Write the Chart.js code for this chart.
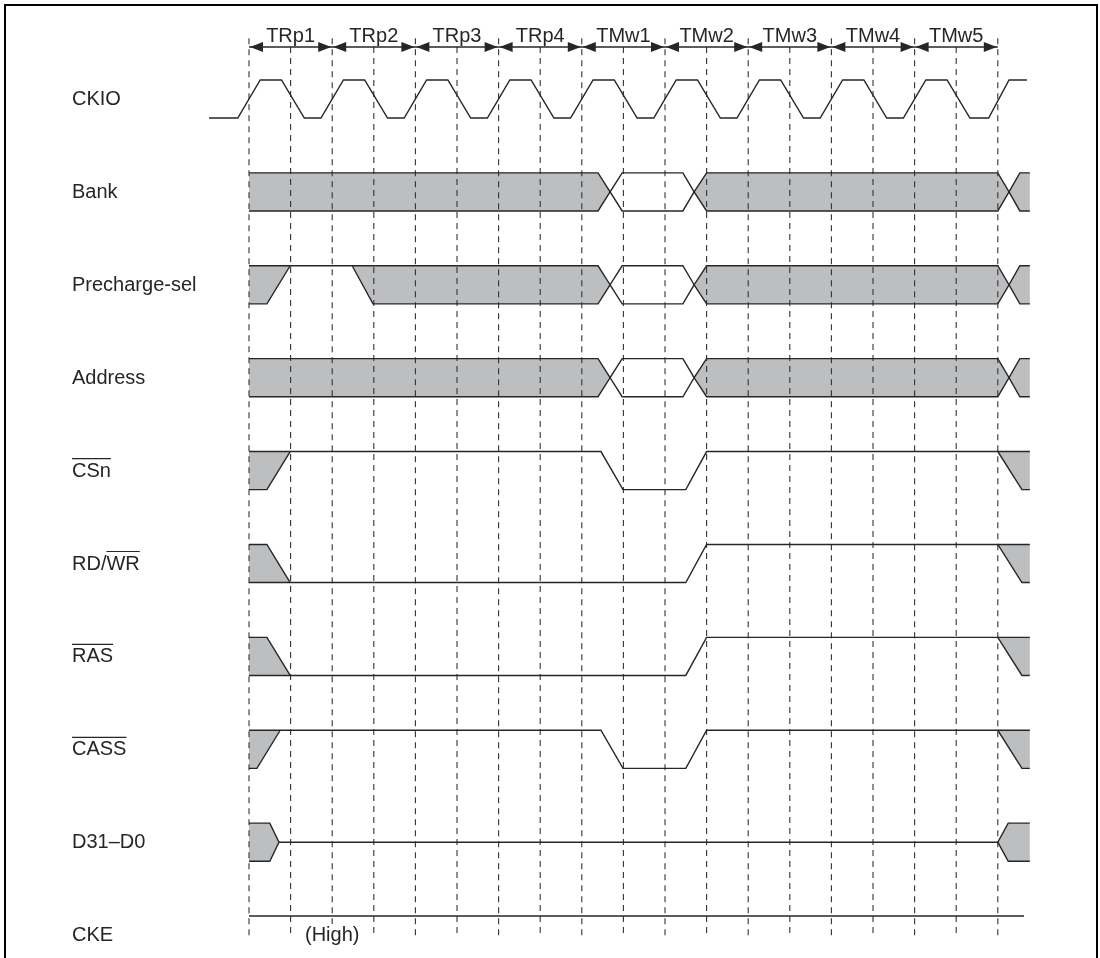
<!DOCTYPE html>
<html>
<head>
<meta charset="utf-8">
<title>SDRAM timing</title>
<script src="https://cdn.jsdelivr.net/npm/chart.js@4.4.1/dist/chart.umd.min.js"></script>
<style>
  html, body { margin: 0; padding: 0; background: #fff; }
  #wrap { width: 1100px; height: 958px; }
</style>
</head>
<body>
<div id="wrap"><canvas id="timing" width="1100" height="958"></canvas></div>
<script>
// time axis is in half clock cycles, 0 = start of TRp1
const cycleBoundaries = [0, 2, 4, 6, 8, 10, 12, 14, 16, 18];
const halfCycleMarks = [1, 3, 5, 7, 9, 11, 13, 15, 17];
const cycleLabels = ['TRp1', 'TRp2', 'TRp3', 'TRp4', 'TMw1', 'TMw2', 'TMw3', 'TMw4', 'TMw5'];
const signalNames = ['CKIO', 'Bank', 'Precharge-sel', 'Address', 'CSn', 'RD/WR', 'RAS', 'CASS', 'D31\u2013D0', 'CKE'];
// [from, to] character range drawn with an overline (active low)
const overlineRanges = [null, null, null, null, [0, 3], [3, 5], [0, 3], [0, 4], null, null];

// waveforms: [time, level]  level 1 = high, 0 = low, 0.5 = mid / high-Z
const ckioWave = [[-0.96, 0], [-0.27, 0], [0.27, 1], [0.78, 1], [1.33, 0], [1.73, 0], [2.27, 1], [2.78, 1], [3.33, 0],
  [3.73, 0], [4.27, 1], [4.78, 1], [5.33, 0], [5.73, 0], [6.27, 1], [6.78, 1], [7.33, 0], [7.73, 0], [8.27, 1],
  [8.78, 1], [9.33, 0], [9.73, 0], [10.27, 1], [10.78, 1], [11.33, 0], [11.73, 0], [12.27, 1], [12.78, 1], [13.33, 0],
  [13.73, 0], [14.27, 1], [14.78, 1], [15.33, 0], [15.73, 0], [16.27, 1], [16.78, 1], [17.33, 0], [17.78, 0],
  [18.27, 1], [18.7, 1]];

const bankUpper = [[0, 1], [8.39, 1], [8.68, 0.5], [8.97, 1], [10.43, 1], [10.7, 0.5], [11.0, 1], [18.0, 1], [18.27, 0.5], [18.53, 1], [18.77, 1]];
const bankLower = [[0, 0], [8.39, 0], [8.68, 0.5], [8.97, 0], [10.43, 0], [10.7, 0.5], [11.0, 0], [18.0, 0], [18.27, 0.5], [18.53, 0], [18.77, 0]];
const bankShade = [
  [[0, 1], [8.39, 1], [8.68, 0.5], [8.39, 0], [0, 0]],
  [[10.7, 0.5], [11.0, 1], [18.0, 1], [18.27, 0.5], [18.0, 0], [11.0, 0]],
  [[18.27, 0.5], [18.53, 1], [18.77, 1], [18.77, 0], [18.53, 0]]
];

const prechargeUpper = [[0, 1], [8.39, 1], [8.68, 0.5], [8.97, 1], [10.43, 1], [10.7, 0.5], [11.0, 1], [18.0, 1], [18.27, 0.5], [18.53, 1], [18.77, 1]];
const prechargeStart = [[0, 0], [0.43, 0], [0.99, 1]];
const prechargeLower = [[2.48, 1], [2.98, 0], [8.39, 0], [8.68, 0.5], [8.97, 0], [10.43, 0], [10.7, 0.5], [11.0, 0], [18.0, 0], [18.27, 0.5], [18.53, 0], [18.77, 0]];
const prechargeShade = [
  [[0, 1], [0.99, 1], [0.43, 0], [0, 0]],
  [[2.48, 1], [8.39, 1], [8.68, 0.5], [8.39, 0], [2.98, 0]],
  [[10.7, 0.5], [11.0, 1], [18.0, 1], [18.27, 0.5], [18.0, 0], [11.0, 0]],
  [[18.27, 0.5], [18.53, 1], [18.77, 1], [18.77, 0], [18.53, 0]]
];

const addressUpper = [[0, 1], [8.39, 1], [8.68, 0.5], [8.97, 1], [10.43, 1], [10.7, 0.5], [11.0, 1], [18.0, 1], [18.27, 0.5], [18.53, 1], [18.77, 1]];
const addressLower = [[0, 0], [8.39, 0], [8.68, 0.5], [8.97, 0], [10.43, 0], [10.7, 0.5], [11.0, 0], [18.0, 0], [18.27, 0.5], [18.53, 0], [18.77, 0]];
const addressShade = [
  [[0, 1], [8.39, 1], [8.68, 0.5], [8.39, 0], [0, 0]],
  [[10.7, 0.5], [11.0, 1], [18.0, 1], [18.27, 0.5], [18.0, 0], [11.0, 0]],
  [[18.27, 0.5], [18.53, 1], [18.77, 1], [18.77, 0], [18.53, 0]]
];

const csWave = [[0, 1], [8.46, 1], [8.99, 0], [10.5, 0], [11.0, 1], [18.0, 1], [18.58, 0], [18.77, 0]];
const csStart = [[0, 0], [0.43, 0], [0.99, 1]];
const csEnd = [[18.0, 1], [18.77, 1]];
const csShade = [
  [[0, 1], [0.99, 1], [0.43, 0], [0, 0]],
  [[18.0, 1], [18.77, 1], [18.77, 0], [18.58, 0]]
];

const rdwrWave = [[0, 0], [10.5, 0], [11.0, 1], [18.0, 1], [18.58, 0], [18.77, 0]];
const rdwrStart = [[0, 1], [0.43, 1], [0.99, 0]];
const rdwrEnd = [[18.0, 1], [18.77, 1]];
const rdwrShade = [
  [[0, 1], [0.43, 1], [0.99, 0], [0, 0]],
  [[18.0, 1], [18.77, 1], [18.77, 0], [18.58, 0]]
];

const rasWave = [[0, 0], [10.5, 0], [11.0, 1], [18.0, 1], [18.58, 0], [18.77, 0]];
const rasStart = [[0, 1], [0.43, 1], [0.99, 0]];
const rasEnd = [[18.0, 1], [18.77, 1]];
const rasShade = [
  [[0, 1], [0.43, 1], [0.99, 0], [0, 0]],
  [[18.0, 1], [18.77, 1], [18.77, 0], [18.58, 0]]
];

const cassWave = [[0, 1], [8.46, 1], [8.99, 0], [10.5, 0], [11.0, 1], [18.0, 1], [18.58, 0], [18.77, 0]];
const cassStart = [[0, 0], [0.19, 0], [0.75, 1]];
const cassEnd = [[18.0, 1], [18.77, 1]];
const cassShade = [
  [[0, 1], [0.75, 1], [0.19, 0], [0, 0]],
  [[18.0, 1], [18.77, 1], [18.77, 0], [18.58, 0]]
];

const dataStart = [[0, 1], [0.5, 1], [0.72, 0.5], [0.5, 0], [0, 0]];
const dataHiZ = [[0.72, 0.5], [18.0, 0.5]];
const dataEnd = [[18.77, 1], [18.25, 1], [18.0, 0.5], [18.25, 0], [18.77, 0]];
const dataShade = [dataStart, dataEnd];

const ckeWave = [[0, 1], [18.63, 1]];

const signals = [
  { lines: [ckioWave], shades: [] },
  { lines: [bankUpper, bankLower], shades: bankShade },
  { lines: [prechargeUpper, prechargeStart, prechargeLower], shades: prechargeShade },
  { lines: [addressUpper, addressLower], shades: addressShade },
  { lines: [csWave, csStart, csEnd], shades: csShade },
  { lines: [rdwrWave, rdwrStart, rdwrEnd], shades: rdwrShade },
  { lines: [rasWave, rasStart, rasEnd], shades: rasShade },
  { lines: [cassWave, cassStart, cassEnd], shades: cassShade },
  { lines: [dataStart, dataHiZ, dataEnd], shades: dataShade },
  { lines: [ckeWave], shades: [] }
];

const INK = '#262626';
const SHADE = '#bdbec0';
const FONT = '"Liberation Sans", Arial, Helvetica, sans-serif';
const AMP = 0.205;          // half of a signal swing, in row units
const ARROW_ROW = -0.56;    // row position of the cycle arrows
const GRID_TOP = -0.655;
const GRID_BOTTOM = 9.03;

const toPts = (row, pairs) => pairs.map(([t, lv]) => ({ x: t, y: row + (0.5 - lv) * 2 * AMP }));

const datasets = [];
signals.forEach((sig, row) => {
  sig.shades.forEach(poly => datasets.push({
    data: toPts(row, poly), borderColor: 'rgba(0,0,0,0)', backgroundColor: SHADE,
    borderWidth: 1, fill: 'shape', order: 3
  }));
  sig.lines.forEach(line => datasets.push({
    data: toPts(row, line), borderColor: INK, borderWidth: 1.4, fill: false, order: 1
  }));
});

// dashed clock guides
cycleBoundaries.forEach(t => datasets.push({
  data: [{ x: t, y: GRID_TOP }, { x: t, y: GRID_BOTTOM }],
  borderColor: '#333', borderWidth: 1.1, borderDash: [6, 5], fill: false, order: 2
}));
halfCycleMarks.forEach(t => datasets.push({
  data: [{ x: t, y: ARROW_ROW }, { x: t, y: GRID_BOTTOM }],
  borderColor: '#333', borderWidth: 1.1, borderDash: [6, 5], fill: false, order: 2
}));

// arrow shaft across all cycles
datasets.push({
  data: [{ x: cycleBoundaries[0], y: ARROW_ROW }, { x: cycleBoundaries[cycleBoundaries.length - 1], y: ARROW_ROW }],
  borderColor: INK, borderWidth: 1.3, fill: false, order: 1
});

const decor = {
  id: 'decor',
  afterDatasetsDraw(chart) {
    const { ctx, scales: { x, y } } = chart;
    const ay = y.getPixelForValue(ARROW_ROW);
    ctx.save();
    ctx.fillStyle = INK;
    ctx.strokeStyle = INK;

    const head = (tip, dir) => {
      ctx.beginPath();
      ctx.moveTo(tip, ay);
      ctx.lineTo(tip + dir * 13, ay - 5);
      ctx.lineTo(tip + dir * 13, ay + 5);
      ctx.closePath();
      ctx.fill();
    };

    ctx.font = '20px ' + FONT;
    ctx.textAlign = 'center';
    ctx.textBaseline = 'alphabetic';
    for (let i = 0; i < cycleLabels.length; i++) {
      const x0 = x.getPixelForValue(cycleBoundaries[i]);
      const x1 = x.getPixelForValue(cycleBoundaries[i + 1]);
      head(x0 + 1, 1);
      head(x1 - 1, -1);
      ctx.fillText(cycleLabels[i], (x0 + x1) / 2, ay - 5);
    }

    // signal names
    ctx.font = '20px ' + FONT;
    ctx.textAlign = 'left';
    ctx.lineWidth = 1.2;
    signalNames.forEach((name, row) => {
      const base = y.getPixelForValue(row) + 6;
      ctx.fillText(name, 72, base);
      const r = overlineRanges[row];
      if (r) {
        const a = 72 + ctx.measureText(name.slice(0, r[0])).width;
        const b = 72 + ctx.measureText(name.slice(0, r[1])).width;
        ctx.beginPath();
        ctx.moveTo(a, base - 18);
        ctx.lineTo(b, base - 18);
        ctx.stroke();
      }
    });

    // CKE note
    const hx = x.getPixelForValue(halfCycleMarks[0] + 1);
    const hb = y.getPixelForValue(signalNames.length - 1) + 6;
    const w = ctx.measureText('(High)').width;
    ctx.fillStyle = '#fff';
    ctx.fillRect(hx - w / 2 - 2, hb - 17, w + 4, 23);
    ctx.fillStyle = INK;
    ctx.textAlign = 'center';
    ctx.fillText('(High)', hx, hb);

    // frame
    ctx.strokeStyle = '#000';
    ctx.lineWidth = 2;
    ctx.strokeRect(5, 5, 1092, 970);
    ctx.restore();
  }
};

new Chart(document.getElementById('timing').getContext('2d'), {
  type: 'line',
  data: { datasets },
  options: {
    responsive: false,
    animation: false,
    devicePixelRatio: 1,
    layout: { padding: 0 },
    elements: { point: { radius: 0, hoverRadius: 0 }, line: { tension: 0 } },
    plugins: { legend: { display: false }, tooltip: { enabled: false } },
    scales: {
      x: { type: 'linear', min: -249 / 41.6, max: (1100 - 249) / 41.6, display: false },
      y: { type: 'linear', reverse: true, min: -99 / 92.9, max: (958 - 99) / 92.9, display: false }
    }
  },
  plugins: [decor]
});
</script>
</body>
</html>
